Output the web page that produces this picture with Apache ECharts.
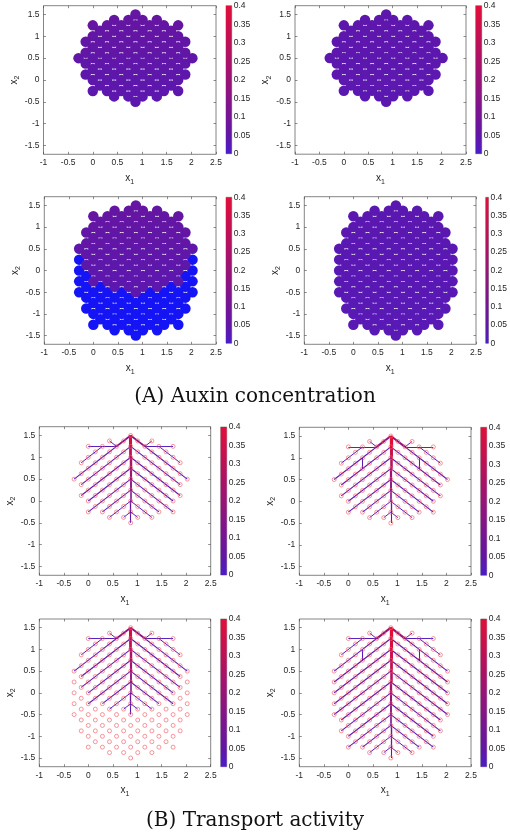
<!DOCTYPE html>
<html>
<head>
<meta charset="utf-8">
<script src="https://cdn.jsdelivr.net/npm/echarts@6/dist/echarts.min.js"></script>
<style>html,body{margin:0;padding:0;background:#fff}#chart{width:510px;height:832px}</style>
</head>
<body>
<div id="chart"></div>
<script>
// 格点的列坐标 (每行可用的 x)
var xs0 = [0.866];
var xs3 = [0.433, 0.722, 1.010, 1.299];
var xs5 = [0.144, 0.433, 0.722, 1.010, 1.299, 1.588];
var xs6 = [0, 0.289, 0.577, 0.866, 1.155, 1.443, 1.732];
var xs7 = [-0.144, 0.144, 0.433, 0.722, 1.010, 1.299, 1.588, 1.876];
var xs8 = [-0.289, 0, 0.289, 0.577, 0.866, 1.155, 1.443, 1.732, 2.021];

// 小组织 (上) 与大组织 (下) 的行
var smallRowY = [1.5, 1.375, 1.25, 1.125, 1, 0.875, 0.75, 0.625, 0.5, 0.375, 0.25, 0.125, 0, -0.125, -0.25, -0.375, -0.5];
var smallRowX = [xs0, xs3, xs6, xs5, xs6, xs7, xs6, xs7, xs8, xs7, xs6, xs7, xs6, xs5, xs6, xs3, xs0];
var bigRowY = [1.5, 1.375, 1.25, 1.125, 1, 0.875, 0.75, 0.625, 0.5, 0.375, 0.25, 0.125, 0,
  -0.125, -0.25, -0.375, -0.5, -0.625, -0.75, -0.875, -1, -1.125, -1.25, -1.375, -1.5];
var bigRowX = [xs0, xs3, xs6, xs5, xs6, xs7, xs6, xs7, xs8, xs7, xs8, xs7, xs8,
  xs7, xs8, xs7, xs8, xs7, xs6, xs7, xs6, xs5, xs6, xs3, xs0];

// 每行的生长素浓度
var auxinA1 = [0.058, 0.056, 0.055, 0.053, 0.052, 0.05, 0.049, 0.048, 0.046, 0.045, 0.044, 0.042, 0.041, 0.04, 0.039, 0.038, 0.037];
var auxinA2 = [0.04, 0.04, 0.04, 0.039, 0.039, 0.038, 0.038, 0.038, 0.037, 0.037, 0.037, 0.036, 0.036, 0.036, 0.035, 0.035, 0.035];
var auxinA3 = [0.058, 0.056, 0.055, 0.053, 0.052, 0.05, 0.049, 0.048, 0.046, 0.045, 0.044, 0.042, 0.041, 0.04, 0.039, 0.038, 0.037];
var auxinA4 = [0.034, 0.034, 0.034, 0.033, 0.033, 0.033, 0.032, 0.032, 0.032, 0.032, 0.031, 0.031, 0.031,
  0.031, 0.03, 0.03, 0.03, 0.029, 0.029, 0.029, 0.029, 0.028, 0.028, 0.028, 0.028];

// 主脉 (x = 0.866) 节点与各段通量
var veinSmallY = [1.5, 1.25, 1, 0.75, 0.5, 0.25, 0, -0.25, -0.5];
var veinFluxB1 = [0.36, 0.31, 0.26, 0.21, 0.16, 0.11, 0.07, 0.03];
var veinFluxB2 = [0.4, 0.34, 0.28, 0.22, 0.17, 0.12, 0.07, 0.03];
var veinFluxB3 = [0.36, 0.31, 0.26, 0.21, 0.16, 0.11, 0.07, 0.03];
var veinBigY = [1.5, 1.25, 1, 0.75, 0.5, 0.25, 0, -0.25, -0.5, -0.75, -1, -1.25, -1.5];
var veinFluxB4 = [0.4, 0.37, 0.34, 0.31, 0.28, 0.24, 0.2, 0.16, 0.12, 0.09, 0.06, 0.03];

// 左半侧脉 [x1, y1, x2, y2, 通量]; 右半为镜像
var sideB1 = [
  [0.866, 1.5, 0.577, 1.25, 0.16],
  [0.577, 1.25, 0.289, 1, 0.04],
  [0.289, 1, -0.289, 0.5, 0.03],
  [0.866, 1.25, -0.144, 0.375, 0.04],
  [0.866, 1, -0.144, 0.125, 0.035],
  [0.866, 0.75, 0, 0, 0.03],
  [0.866, 0.5, 0, -0.25, 0.03],
  [0.866, 0.25, 0.289, -0.25, 0.02],
  [0.866, 0, 0.433, -0.375, 0.015],
  [0.866, -0.25, 0.722, -0.375, 0.01],
  [0.289, 1.25, 0.577, 1.25, 0.02],
  [0, 1.25, 0.289, 1.25, 0.01],
  [-0.144, 0.875, 0.289, 1.25, 0.015],
  [0.433, 1.375, 0.577, 1.25, 0.01]
];
var sideB2 = [
  [0.866, 1.5, 0.577, 1.25, 0.18],
  [0.577, 1.25, 0.289, 1, 0.04],
  [0.289, 1, -0.289, 0.5, 0.03],
  [0.289, 1, 0.289, 0.75, 0.025],
  [0.866, 1.25, -0.144, 0.375, 0.045],
  [0.866, 1, -0.144, 0.125, 0.04],
  [0.866, 0.75, 0, 0, 0.035],
  [0.866, 0.5, 0, -0.25, 0.03],
  [0.866, 0.25, 0.289, -0.25, 0.02],
  [0.866, 0, 0.433, -0.375, 0.015],
  [0.866, -0.25, 0.722, -0.375, 0.01],
  [0.289, 1.25, 0.577, 1.25, 0.02],
  [0, 1.25, 0.289, 1.25, 0.01],
  [-0.144, 0.875, 0.289, 1.25, 0.015],
  [0.433, 1.375, 0.577, 1.25, 0.01]
];
var sideB4 = [
  [0.866, 1.5, 0.577, 1.25, 0.2],
  [0.577, 1.25, 0.289, 1, 0.045],
  [0.289, 1, -0.289, 0.5, 0.035],
  [0.289, 1, 0.289, 0.75, 0.025],
  [0.866, 1.25, -0.289, 0.25, 0.05],
  [0.866, 1, -0.289, 0, 0.05],
  [0.866, 0.75, -0.289, -0.25, 0.048],
  [0.866, 0.5, -0.289, -0.5, 0.045],
  [0.866, 0.25, -0.144, -0.625, 0.04],
  [0.866, 0, -0.144, -0.875, 0.038],
  [0.866, -0.25, 0, -1, 0.035],
  [0.866, -0.5, 0, -1.25, 0.03],
  [0.866, -0.75, 0.289, -1.25, 0.025],
  [0.866, -1, 0.433, -1.375, 0.015],
  [0.866, -1.25, 0.722, -1.375, 0.01],
  [0.289, 1.25, 0.577, 1.25, 0.02],
  [0, 1.25, 0.289, 1.25, 0.01],
  [-0.144, 0.875, 0.289, 1.25, 0.015],
  [0.433, 1.375, 0.577, 1.25, 0.01]
];

// 刻度
var yTicks = [-1.5, -1, -0.5, 0, 0.5, 1, 1.5];

// 颜色映射 (蓝紫 -> 紫 -> 红), 断点
var cmapAt = [0, 0.05, 0.4];
var cmapRGB = [[75, 28, 200], [98, 22, 165], [226, 14, 56]];
function cmap(v) {
  v = Math.max(0, Math.min(0.4, v));
  var i = v <= cmapAt[1] ? 0 : 1;
  var t = (v - cmapAt[i]) / (cmapAt[i + 1] - cmapAt[i]);
  var c = [0, 1, 2].map(function (k) { return Math.round(cmapRGB[i][k] + t * (cmapRGB[i + 1][k] - cmapRGB[i][k])); });
  return 'rgb(' + c.join(',') + ')';
}
var cmapSamples = [];
for (var s = 0; s <= 16; s++) cmapSamples.push(cmap(s * 0.025));

var chart = echarts.init(document.getElementById('chart'));

var grids = [], xAxes = [], yAxes = [], series = [], cellSeries = [];
var tickStyle = { inside: true, length: 2.5, lineStyle: { color: '#444', width: 0.6 } };
var noLine = { show: false, onZero: false };
var labelFont = { fontSize: 8.5, color: '#262626', fontFamily: 'Liberation Sans' };
var nameStyle = {
  color: '#262626', fontFamily: 'Liberation Sans',
  rich: {
    a: { fontSize: 10, fontFamily: 'Liberation Sans', color: '#262626' },
    s: { fontSize: 7, padding: [7, 0, 0, 0], fontFamily: 'Liberation Sans', color: '#262626' }
  }
};

// 一个子图: 主坐标区 + 颜色条
function addPanel(m, cb) {
  var g = grids.length;
  grids.push({ left: m[0], top: m[1], width: m[2], height: m[3], show: true, borderColor: '#666', borderWidth: 0.8 });
  var xi = xAxes.length, yi = yAxes.length;
  xAxes.push({
    gridIndex: g, type: 'value', min: -1, max: 2.5, interval: 0.5, position: 'bottom',
    axisLine: noLine, axisTick: tickStyle, splitLine: { show: false },
    axisLabel: Object.assign({ margin: 4 }, labelFont),
    name: '{a|x}{s|1}', nameLocation: 'middle', nameGap: 17, nameTextStyle: nameStyle
  });
  xAxes.push({
    gridIndex: g, type: 'value', min: -1, max: 2.5, interval: 0.5, position: 'top',
    axisLine: noLine, axisTick: tickStyle, splitLine: { show: false }, axisLabel: { show: false }
  });
  yAxes.push({
    gridIndex: g, type: 'value', min: -1.7, max: 1.7, position: 'left',
    axisLine: noLine, splitLine: { show: false },
    axisTick: Object.assign({ customValues: yTicks }, tickStyle),
    axisLabel: Object.assign({ margin: 4, customValues: yTicks }, labelFont),
    name: '{a|x}{s|2}', nameLocation: 'middle', nameGap: 22, nameTextStyle: nameStyle
  });
  yAxes.push({
    gridIndex: g, type: 'value', min: -1.7, max: 1.7, position: 'right',
    axisLine: noLine, splitLine: { show: false },
    axisTick: Object.assign({ customValues: yTicks }, tickStyle),
    axisLabel: { show: false, customValues: yTicks }
  });

  // 颜色条
  var gc = grids.length;
  grids.push({ left: cb[0], top: cb[1], width: cb[2], height: cb[3], show: true, borderColor: '#666', borderWidth: 0.6 });
  var cxi = xAxes.length, cyi = yAxes.length;
  xAxes.push({ gridIndex: gc, type: 'category', data: ['c'], show: false, axisLine: noLine });
  yAxes.push({
    gridIndex: gc, type: 'value', min: 0, max: 0.4, interval: 0.05, position: 'right',
    axisLine: noLine, axisTick: { show: false }, splitLine: { show: false },
    axisLabel: Object.assign({ margin: 2 }, labelFont)
  });
  series.push({
    type: 'bar', xAxisIndex: cxi, yAxisIndex: cyi, data: [0.4], barWidth: '100%', silent: true,
    itemStyle: {
      color: new echarts.graphic.LinearGradient(0, 1, 0, 0, cmapSamples.map(function (c, i) {
        return { offset: i / (cmapSamples.length - 1), color: c };
      }))
    }
  });
  return { x: xi, y: yi };
}

function cellsOf(rowY, rowX, vals) {
  var out = [];
  rowY.forEach(function (y, i) {
    rowX[i].forEach(function (x) { out.push([x, y, vals ? vals[i] : 0]); });
  });
  return out;
}

function addCells(ax, data) {
  cellSeries.push(series.length);
  series.push({
    type: 'scatter', xAxisIndex: ax.x, yAxisIndex: ax.y, data: data,
    symbolSize: 10.5, silent: true, itemStyle: { opacity: 1 }, z: 2
  });
}

function addTree(ax, veinY, veinFlux, side) {
  var lines = [];
  for (var i = 0; i < veinFlux.length; i++) {
    lines.push({ f: veinFlux[i], c: [[0.866, veinY[i]], [0.866, veinY[i + 1]]] });
  }
  side.forEach(function (s) {
    lines.push({ f: s[4], c: [[s[0], s[1]], [s[2], s[3]]] });
    lines.push({ f: s[4], c: [[1.732 - s[0], s[1]], [1.732 - s[2], s[3]]] });
  });
  // 细线先画, 粗线后画
  lines.sort(function (a, b) { return a.f - b.f; });
  series.push({
    type: 'lines', coordinateSystem: 'cartesian2d', xAxisIndex: ax.x, yAxisIndex: ax.y,
    silent: true, z: 2,
    data: lines.map(function (l) {
      return { coords: l.c, lineStyle: { color: cmap(l.f), width: 0.9 + l.f * 6, opacity: 1 } };
    })
  });
}

function addRings(ax, data) {
  series.push({
    type: 'scatter', xAxisIndex: ax.x, yAxisIndex: ax.y, data: data, symbolSize: 4, silent: true, z: 3,
    itemStyle: { color: 'rgba(0,0,0,0)', borderColor: '#f45a66', borderWidth: 0.8 }
  });
}

// (A) 生长素浓度
var a1 = addPanel([43.5, 5.7, 172.5, 148.6], [226, 5.7, 5.7, 148]);
addCells(a1, cellsOf(smallRowY, smallRowX, auxinA1));
var a2 = addPanel([295, 5.7, 171, 148.5], [475.7, 5.7, 6, 148]);
addCells(a2, cellsOf(smallRowY, smallRowX, auxinA2));
var a3 = addPanel([44.3, 196.7, 171.7, 147.6], [226, 197.3, 5.7, 146]);
var oldCells = cellsOf(smallRowY, smallRowX, auxinA3);
var oldKey = {};
oldCells.forEach(function (c) { oldKey[c[0] + ',' + c[1]] = 1; });
var newCells = cellsOf(bigRowY, bigRowX).filter(function (c) { return !oldKey[c[0] + ',' + c[1]]; });
series.push({
  type: 'scatter', xAxisIndex: a3.x, yAxisIndex: a3.y, data: newCells, symbolSize: 10.5,
  silent: true, itemStyle: { color: '#1414f5', opacity: 1 }, z: 2
});
addCells(a3, oldCells);
var a4 = addPanel([304.3, 196.7, 171.7, 147.6], [485.7, 197.3, 6, 146]);
addCells(a4, cellsOf(bigRowY, bigRowX, auxinA4));

// (B) 运输活性
var b1 = addPanel([39.3, 426.7, 171.4, 148.6], [220.7, 427, 6, 148]);
addTree(b1, veinSmallY, veinFluxB1, sideB1);
addRings(b1, cellsOf(smallRowY, smallRowX));
var b2 = addPanel([299.3, 427.3, 171.7, 148], [480.7, 427.3, 6, 148]);
addTree(b2, veinSmallY, veinFluxB2, sideB2);
addRings(b2, cellsOf(smallRowY, smallRowX));
var b3 = addPanel([39.3, 619, 171.4, 147.7], [220.7, 619, 6, 147.7]);
addTree(b3, veinSmallY, veinFluxB3, sideB1);
addRings(b3, cellsOf(bigRowY, bigRowX));
var b4 = addPanel([299.3, 619, 171.7, 147.7], [480.7, 619, 6, 147.7]);
addTree(b4, veinBigY, veinFluxB4, sideB4);
addRings(b4, cellsOf(bigRowY, bigRowX));

var option = {
  animation: false,
  backgroundColor: '#fff',
  title: [
    { text: '(A) Auxin concentration', left: 'center', top: 382,
      textStyle: { fontFamily: 'DejaVu Serif', fontSize: 20, fontWeight: 'normal', color: '#111' } },
    { text: '(B) Transport activity', left: 'center', top: 806,
      textStyle: { fontFamily: 'DejaVu Serif', fontSize: 20, fontWeight: 'normal', color: '#111' } }
  ],
  grid: grids,
  xAxis: xAxes,
  yAxis: yAxes,
  visualMap: {
    type: 'continuous', show: false, min: 0, max: 0.4, dimension: 2,
    seriesIndex: cellSeries, inRange: { color: cmapSamples }
  },
  series: series
};

chart.setOption(option);
</script>
</body>
</html>
